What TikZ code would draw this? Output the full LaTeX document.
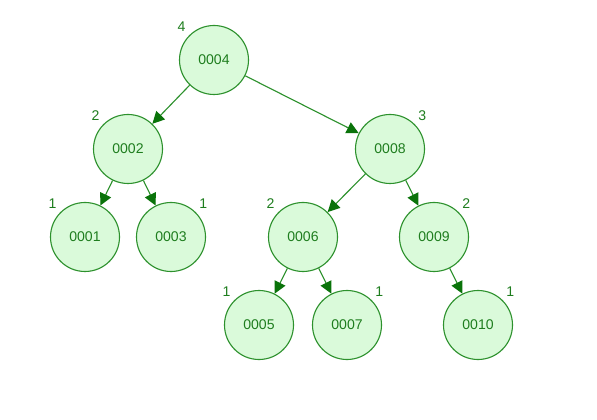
\documentclass[tikz,border=0pt]{standalone}
\usepackage{fontspec}
\setmainfont{Liberation Sans}
\usepackage{xcolor}
\usepackage{tikz}
\usetikzlibrary{arrows.meta}
\definecolor{treeline}{RGB}{45,145,45}
\definecolor{treefill}{RGB}{218,250,218}
\definecolor{treetext}{RGB}{30,125,30}
\definecolor{treetip}{RGB}{10,115,10}
\tikzset{
  key/.style  ={circle, draw=treeline, fill=treefill, line width=0.8pt,
                minimum size=1.725cm, inner sep=0pt, text=treetext, font=\normalsize},
  hgt/.style  ={text=treetext, font=\normalsize, inner sep=1pt},
  lnk/.style  ={draw=treeline, line width=0.8pt,
                -{Triangle[length=0.3cm,width=0.3cm,fill=treetip,color=treetip]}},
}
\begin{document}
\begin{tikzpicture}
  \useasboundingbox (0,0) rectangle (14.925,10.475);
  % tree nodes, height on the outside
  \node[key,label={[hgt,label distance=2pt]135:4}] (n4)  at (5.35,8.975)  {0004};
  \node[key,label={[hgt,label distance=2pt]135:2}] (n2)  at (3.2,6.75)    {0002};
  \node[key,label={[hgt,label distance=2pt]45:3}]  (n8)  at (9.75,6.75)   {0008};
  \node[key,label={[hgt,label distance=2pt]135:1}] (n1)  at (2.125,4.55)  {0001};
  \node[key,label={[hgt,label distance=2pt]45:1}]  (n3)  at (4.275,4.55)  {0003};
  \node[key,label={[hgt,label distance=2pt]135:2}] (n6)  at (7.575,4.55)  {0006};
  \node[key,label={[hgt,label distance=2pt]45:2}]  (n9)  at (10.85,4.55)  {0009};
  \node[key,label={[hgt,label distance=2pt]135:1}] (n5)  at (6.475,2.35)  {0005};
  \node[key,label={[hgt,label distance=2pt]45:1}]  (n7)  at (8.675,2.35)  {0007};
  \node[key,label={[hgt,label distance=2pt]45:1}]  (n10) at (11.95,2.35)  {0010};
  % links
  \draw[lnk] (n4) -- (n2);
  \draw[lnk] (n4) -- (n8);
  \draw[lnk] (n2) -- (n1);
  \draw[lnk] (n2) -- (n3);
  \draw[lnk] (n8) -- (n6);
  \draw[lnk] (n8) -- (n9);
  \draw[lnk] (n6) -- (n5);
  \draw[lnk] (n6) -- (n7);
  \draw[lnk] (n9) -- (n10);
\end{tikzpicture}
\end{document}
